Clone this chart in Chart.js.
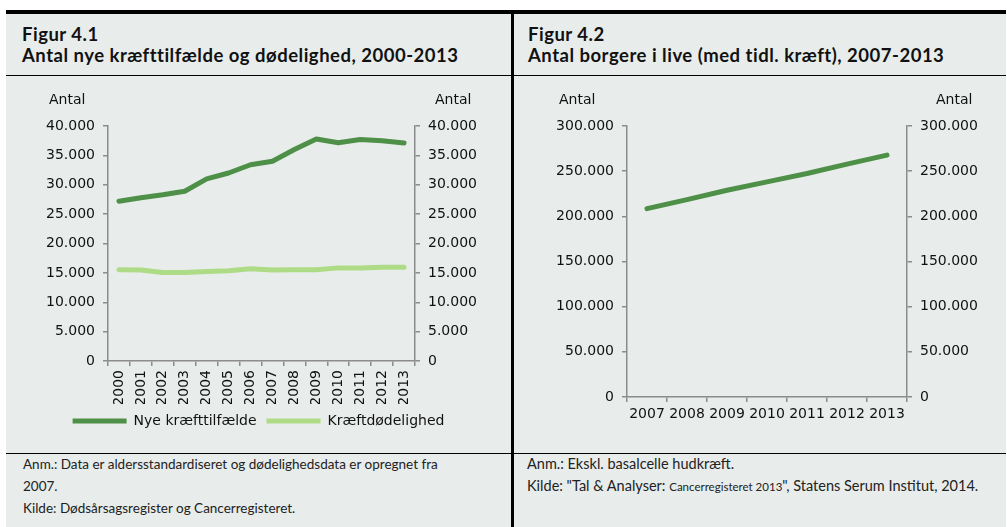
<!DOCTYPE html>
<html>
<head>
<meta charset="utf-8">
<script src="https://cdn.jsdelivr.net/npm/chart.js@4.4.1/dist/chart.umd.min.js"></script>
<style>
    body { margin: 0; width: 1007px; height: 527px; position: relative; overflow: hidden; background: #fff; font-family: Lato, "Open Sans", sans-serif; }
    #bg { position: absolute; left: 6px; top: 10px; width: 1000px; height: 517px; background: #e8edeb; }
    .topbar { position: absolute; left: 6px; top: 10px; width: 1000px; height: 4px; background: #000; }
    .hline { position: absolute; left: 6px; width: 1000px; height: 1px; background: #000; }
    .vline { position: absolute; left: 511px; top: 10px; width: 3px; height: 517px; background: #000; }
    .head { position: absolute; top: 24px; font-weight: bold; font-size: 18.5px; letter-spacing: 0.5px; line-height: 21px; color: #111; white-space: nowrap; }
    .box { position: absolute; top: 76px; height: 377px; }
    .antal { position: absolute; top: 91px; font-family: "DejaVu Sans"; font-size: 14px; color: #111; }
    .foot { position: absolute; top: 453px; font-size: 13.5px; line-height: 22px; color: #222; white-space: nowrap; }
</style>
</head>
<body>
<div id="bg"></div>
<div class="topbar"></div>
<div class="vline"></div>
<div class="hline" style="top:75px"></div>
<div class="hline" style="top:453px"></div>

<div class="head" style="left:22px">Figur 4.1<br>Antal nye kræfttilfælde og dødelighed, 2000-2013</div>
<div class="head" style="left:528px">Figur 4.2<br>Antal borgere i live (med tidl. kræft), 2007-2013</div>

<div class="box" style="left:6px;width:505px"><canvas id="chart1" width="505" height="377"></canvas></div>
<div class="box" style="left:514px;width:492px"><canvas id="chart2" width="492" height="377"></canvas></div>

<span class="antal" style="left:49px">Antal</span>
<span class="antal" style="left:435px">Antal</span>
<span class="antal" style="left:559px">Antal</span>
<span class="antal" style="left:936px">Antal</span>

<div class="foot" style="left:23px">Anm.: Data er aldersstandardiseret og dødelighedsdata er opregnet fra<br>2007.<br>Kilde: Dødsårsagsregister og Cancerregisteret.</div>
<div class="foot" style="left:527px;font-size:14.5px">Anm.: Ekskl. basalcelle hudkræft.<br>Kilde: "Tal &amp; Analyser: <span style="font-size:11.5px">Cancerregisteret 2013</span>", Statens Serum Institut, 2014.</div>

<script>
// Figur 4.1
const years1 = ['2000', '2001', '2002', '2003', '2004', '2005', '2006', '2007', '2008', '2009', '2010', '2011', '2012', '2013'];
const nyeTilfaelde = [27200, 27800, 28300, 28900, 31000, 32000, 33400, 34000, 36000, 37800, 37150, 37700, 37500, 37100];
const doedelighed = [15550, 15500, 15050, 15050, 15250, 15350, 15700, 15500, 15550, 15550, 15850, 15850, 15950, 15950];

// Figur 4.2
const years2 = ['2007', '2008', '2009', '2010', '2011', '2012', '2013'];
const borgereILive = [208500, 218500, 228900, 238100, 247400, 257800, 267800];

const darkGreen = '#4f9049';
const lightGreen = '#addb86';
const axisGrey = '#8c8c8c';

Chart.defaults.font.family = 'DejaVu Sans';
Chart.defaults.font.size = 14;
Chart.defaults.color = '#111';

function fmt(v) {
    return String(v).replace(/\B(?=(\d{3})+(?!\d))/g, '.');
}

function yAxis(position, max, step, width) {
    return {
        type: 'linear', position: position, min: 0, max: max,
        grid: { drawOnChartArea: false, color: axisGrey, tickLength: 5, lineWidth: 1.5 },
        border: { color: axisGrey, width: 1.5 },
        ticks: { stepSize: step, padding: 8, callback: fmt },
        afterFit: (scale) => { scale.width = width; }
    };
}

function xAxis(height, rotate) {
    return {
        type: 'category', offset: true,
        grid: { offset: true, drawOnChartArea: false, color: axisGrey, tickLength: 5, lineWidth: 1.5 },
        border: { color: axisGrey, width: 1.5 },
        ticks: { autoSkip: false, maxRotation: rotate, minRotation: rotate, padding: 4 },
        afterFit: (scale) => { scale.height = height; }
    };
}

function lineSet(label, data, color, axis) {
    return {
        label: label, data: data, borderColor: color, backgroundColor: color,
        borderWidth: 5, borderCapStyle: 'round', borderJoinStyle: 'round',
        pointRadius: 0, tension: 0, yAxisID: axis
    };
}

new Chart(document.getElementById('chart1'), {
    type: 'line',
    data: {
        labels: years1,
        datasets: [
            lineSet('Nye kræfttilfælde', nyeTilfaelde, darkGreen, 'y'),
            lineSet('Kræftdødelighed', doedelighed, lightGreen, 'y')
        ]
    },
    options: {
        responsive: false, animation: false,
        layout: { padding: { top: 50, bottom: 15, left: 0, right: 0 } },
        scales: {
            x: xAxis(43, 90),
            y: yAxis('left', 40000, 5000, 102),
            y1: yAxis('right', 40000, 5000, 96)
        },
        plugins: {
            tooltip: { enabled: false },
            legend: {
                position: 'bottom',
                labels: { usePointStyle: true, pointStyle: 'line', pointStyleWidth: 54, padding: 10, color: '#111' }
            }
        }
    }
});

new Chart(document.getElementById('chart2'), {
    type: 'line',
    data: {
        labels: years2,
        datasets: [
            lineSet('Antal borgere i live', borgereILive, darkGreen, 'y')
        ]
    },
    options: {
        responsive: false, animation: false,
        layout: { padding: { top: 50, bottom: 16, left: 0, right: 0 } },
        scales: {
            x: xAxis(40, 0),
            y: yAxis('left', 300000, 50000, 113),
            y1: yAxis('right', 300000, 50000, 99)
        },
        plugins: {
            tooltip: { enabled: false },
            legend: { display: false }
        }
    }
});
</script>
</body>
</html>
